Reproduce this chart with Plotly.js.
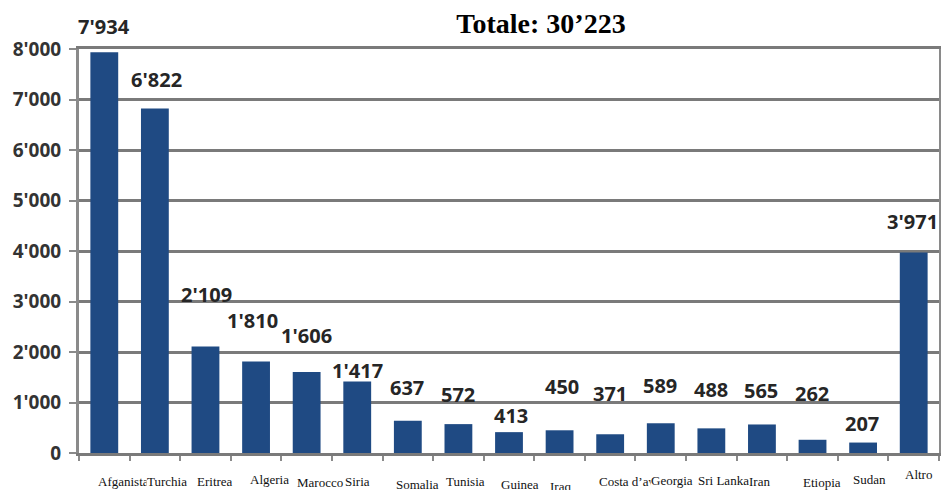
<!DOCTYPE html>
<html>
<head>
<meta charset="utf-8">
<script src="https://cdn.plot.ly/plotly-3.0.1.min.js"></script>
<style>html,body{margin:0;padding:0;background:#fff}#chart{width:941px;height:490px}</style>
</head>
<body>
<div id="chart"></div>
<script>
const categories = ["Afganistan","Turchia","Eritrea","Algeria","Marocco","Siria","Somalia","Tunisia","Guinea","Iraq","Costa d’avorio","Georgia","Sri Lanka","Iran","Etiopia","Sudan","Altro"];
const values = [7934, 6822, 2109, 1810, 1606, 1417, 637, 572, 413, 450, 371, 589, 488, 565, 262, 207, 3971];
const yTicks = [0, 1000, 2000, 3000, 4000, 5000, 6000, 7000, 8000];
const titleText = "Totale: 30’223";

// styling offsets (pixels) reproducing the label placement of the original image
const valShiftX = [0, 2, 1.5, -4, 0, 0, -1, 0, 2, 2, 0, -1, -0.5, -1, -1, -1, -1];
const valShiftY = [26, 28.5, 52.5, 41.6, 36, 11.4, 33, 30, 17, 44, 41, 38, 39, 33.5, 46, 19.5, 30.5];
const catShiftX = [-7, 12, 10, 13, 13, 0, 10, 7, 11, 1, -12, 11, 12, -2, 9, 6, 5];
const catAnchor = ["left","center","center","center","center","center","center","center","center","center","left","center","center","center","center","center","center"];
const catShiftY = [-28, -28, -28, -26, -29.5, -28, -31, -28, -31, -33, -28, -27, -27, -28, -29, -26, -21];
const catBg = [null, "white", null, null, null, null, null, null, null, null, null, "white", null, null, null, null, null];

const fmt = v => String(v).replace(/\B(?=(\d{3})+(?!\d))/g, "'");

const annotations = [];
values.forEach((v, i) => {
  annotations.push({
    x: categories[i], y: v, xref: 'x', yref: 'y',
    text: fmt(v), showarrow: false, xanchor: 'center', yanchor: 'middle',
    xshift: valShiftX[i], yshift: valShiftY[i],
    font: {family: 'Open Sans', size: 20, color: '#262626', weight: 700}
  });
});
categories.forEach((c, i) => {
  const a = {
    x: c, y: 0, xref: 'x', yref: 'y',
    text: c, showarrow: false, xanchor: catAnchor[i], yanchor: 'middle',
    xshift: catShiftX[i], yshift: catShiftY[i], borderpad: 0,
    font: {family: 'Liberation Serif', size: 13, color: '#111'}
  };
  if (catBg[i]) { a.bgcolor = catBg[i]; }
  annotations.push(a);
});

const trace = {
  type: 'bar',
  x: categories,
  y: values,
  width: 0.55,
  marker: {color: '#1f4a83'},
  hoverinfo: 'x+y'
};

const layout = {
  width: 941, height: 490,
  margin: {l: 79, r: 2, t: 49, b: 37},
  paper_bgcolor: '#fff', plot_bgcolor: '#fff',
  separators: ".'",
  showlegend: false,
  title: {
    text: '<b>' + titleText + '</b>',
    font: {family: 'Liberation Serif', size: 28, color: '#000'},
    xref: 'container', x: 541/941, xanchor: 'center',
    yref: 'container', y: 1 - 23/490, yanchor: 'middle'
  },
  xaxis: {
    type: 'category',
    range: [-0.5, categories.length - 0.5],
    showticklabels: false,
    ticks: 'outside', tickson: 'boundaries', ticklen: 5, tickwidth: 2, tickcolor: '#8a8a8a',
    showline: true, linecolor: '#7a7a7a', linewidth: 3, mirror: true,
    showgrid: false, zeroline: false
  },
  yaxis: {
    range: [0, 8000],
    tickvals: yTicks,
    tickformat: ',d',
    ticks: 'outside', ticklen: 7, tickwidth: 2, tickcolor: '#8a8a8a',
    tickfont: {family: 'Open Sans', size: 19, color: '#333', weight: 700},
    ticklabelstandoff: 4,
    showline: true, linecolor: '#8a8a8a', linewidth: 3, mirror: true,
    showgrid: true, gridcolor: '#7a7a7a', gridwidth: 3,
    zeroline: false
  },
  annotations: annotations
};

Plotly.newPlot('chart', [trace], layout, {displayModeBar: false, staticPlot: true});
</script>
</body>
</html>
